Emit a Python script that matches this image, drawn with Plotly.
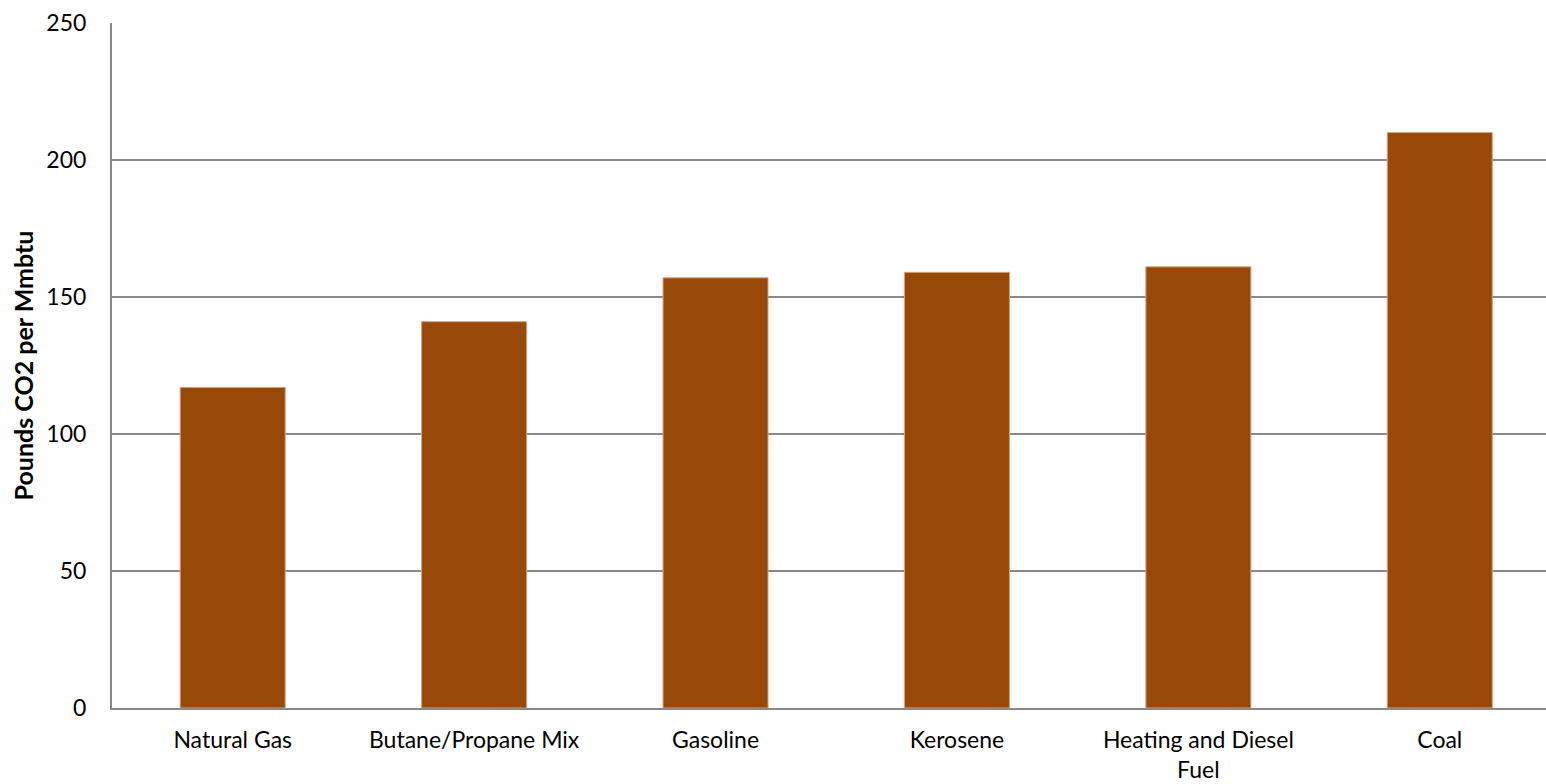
import plotly.graph_objects as go

categories = ["Natural Gas", "Butane/Propane Mix", "Gasoline", "Kerosene",
              "Heating and Diesel<br>Fuel", "Coal"]
values = [117, 141, 157, 159, 161, 210]
y_ticks = [0, 50, 100, 150, 200, 250]

fig = go.Figure(go.Bar(
    x=categories, y=values, width=0.435,
    marker=dict(color="#984807", line=dict(color="#d9a27a", width=1)),
))

font = "Lato, Carlito, 'Open Sans', sans-serif"
fig.update_layout(
    width=1546, height=784,
    margin=dict(l=112, r=0, t=23, b=76),
    paper_bgcolor="white", plot_bgcolor="white",
    font=dict(family=font, size=23, color="black"),
    showlegend=False,
)
fig.update_xaxes(
    range=[-0.5, 5.44],
    showline=True, linecolor="#898989", linewidth=2,
    showgrid=False, ticks="", ticklabelstandoff=10,
    tickfont=dict(size=23),
)
fig.update_yaxes(
    range=[0, 250], tickvals=y_ticks,
    showline=True, linecolor="#898989", linewidth=2,
    showgrid=True, gridcolor="#898989", gridwidth=1.5,
    zeroline=False, ticks="", ticklabelstandoff=19,
    tickfont=dict(size=23),
    title=dict(text="<b>Pounds CO2 per Mmbtu</b>", font=dict(size=25), standoff=6),
)
fig.write_html("out.html")
